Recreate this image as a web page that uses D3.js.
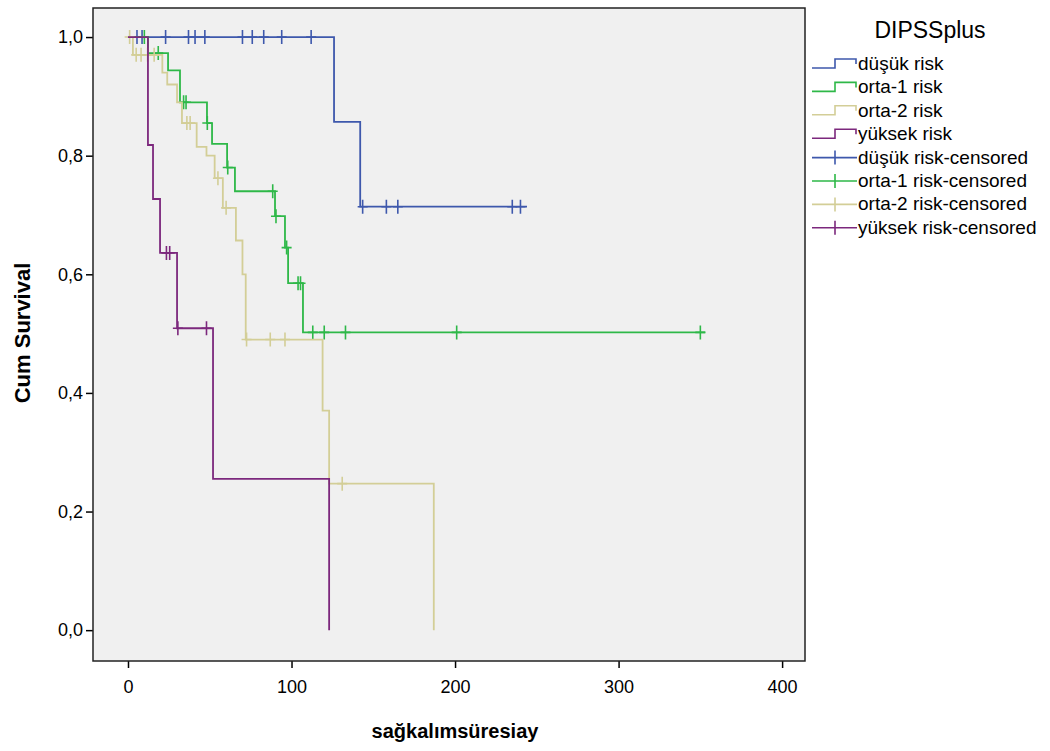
<!DOCTYPE html>
<html>
<head>
<meta charset="utf-8">
<script src="https://cdn.jsdelivr.net/npm/d3@7"></script>
<style>
  body { margin: 0; background: #fff; }
  text { font-family: "Liberation Sans", Arial, sans-serif; }
</style>
</head>
<body>
<div id="chart"></div>
<script>
// Kaplan-Meier steps (time in months, cumulative survival)
const groups = ['düşük risk', 'orta-1 risk', 'orta-2 risk', 'yüksek risk'];
const colors = ['#3e58ac', '#2eb848', '#d3ce97', '#7c287d'];

const dusukTimes = [0, 126, 142];
const dusukSurv = [1.0, 0.857, 0.714];
const dusukEnd = 244;
const dusukCens = [5.5, 8.6, 23, 37, 41, 47, 70, 76, 83, 94, 112, 143.5, 158, 165, 235, 240];

const orta1Times = [0, 12.2, 24.5, 31.8, 48.3, 51.4, 60.6, 65.4, 89.9, 96, 97.9, 107];
const orta1Surv = [1.0, 0.973, 0.944, 0.89, 0.855, 0.82, 0.78, 0.74, 0.698, 0.645, 0.585, 0.502];
const orta1End = 353;
const orta1Cens = [10, 18.5, 34, 35.5, 48.5, 61, 88.5, 90.5, 97, 104, 105.5, 113, 120, 133, 201, 350];

const orta2Times = [0, 3, 21, 24, 30, 33, 42, 48, 53, 58, 66, 70, 72, 119, 123, 187];
const orta2Surv = [1.0, 0.97, 0.94, 0.92, 0.89, 0.855, 0.815, 0.80, 0.762, 0.712, 0.657, 0.60, 0.49, 0.37, 0.247, 0];
const orta2End = 187;
const orta2Cens = [1, 5, 8, 12, 16, 36, 38, 55, 60, 72.5, 87, 96, 131];

const yuksekTimes = [0, 12.2, 15.3, 19.6, 30, 52, 123];
const yuksekSurv = [1.0, 0.818, 0.727, 0.636, 0.509, 0.255, 0];
const yuksekEnd = 123;
const yuksekCens = [23.5, 25.5, 30.5, 48];

const xTicks = [0, 100, 200, 300, 400];
const yTicks = [0, 0.2, 0.4, 0.6, 0.8, 1.0];

const series = [
  { times: dusukTimes, surv: dusukSurv, end: dusukEnd, cens: dusukCens },
  { times: orta1Times, surv: orta1Surv, end: orta1End, cens: orta1Cens },
  { times: orta2Times, surv: orta2Surv, end: orta2End, cens: orta2Cens },
  { times: yuksekTimes, surv: yuksekSurv, end: yuksekEnd, cens: yuksekCens }
];

const width = 1050, height = 751;
const plot = { left: 93, right: 805, top: 8, bottom: 661 };

const svg = d3.select('#chart').append('svg')
  .attr('width', width)
  .attr('height', height);

const x = d3.scaleLinear().domain([-21.4, 414]).range([plot.left, plot.right]);
const y = d3.scaleLinear().domain([-0.052, 1.049]).range([plot.bottom, plot.top]);

// plot background
svg.append('rect')
  .attr('x', plot.left).attr('y', plot.top)
  .attr('width', plot.right - plot.left).attr('height', plot.bottom - plot.top)
  .attr('fill', '#f0f0f0');

const comma = v => d3.format('.1f')(v).replace('.', ',');

// axes
const yAxis = svg.append('g')
  .attr('transform', `translate(${plot.left},0)`)
  .call(d3.axisLeft(y).tickValues(yTicks).tickFormat(comma).tickSize(7).tickSizeOuter(0));
const xAxis = svg.append('g')
  .attr('transform', `translate(0,${plot.bottom})`)
  .call(d3.axisBottom(x).tickValues(xTicks).tickSize(7).tickSizeOuter(0));

[yAxis, xAxis].forEach(a => {
  a.select('.domain').remove();
  a.selectAll('line').attr('stroke', '#000').attr('stroke-width', 1.5);
  a.selectAll('text').attr('fill', '#000').style('font-size', '18px');
});
yAxis.selectAll('text').attr('x', -10);
xAxis.selectAll('text').attr('y', 19);

// step lines
const survAt = (s, t) => {
  let v = s.surv[0];
  s.times.forEach((tt, i) => { if (tt <= t) v = s.surv[i]; });
  return v;
};

const stepPath = s => {
  const pts = s.times.map((t, i) => [t, s.surv[i]]);
  pts.push([s.end, s.surv[s.surv.length - 1]]);
  return d3.line().x(d => x(d[0])).y(d => y(d[1])).curve(d3.curveStepAfter)(pts);
};

const lines = svg.append('g');
series.forEach((s, i) => {
  lines.append('path')
    .attr('d', stepPath(s))
    .attr('fill', 'none')
    .attr('stroke', colors[i])
    .attr('stroke-width', 1.8);

  lines.selectAll(null)
    .data(s.cens)
    .enter()
    .append('path')
    .attr('d', t => {
      const cx = x(t), cy = y(survAt(s, t));
      return `M${cx},${cy - 7}V${cy + 7}M${cx - 5},${cy}H${cx + 5}`;
    })
    .attr('stroke', colors[i])
    .attr('stroke-width', 1.6);
});

// frame
svg.append('rect')
  .attr('x', plot.left).attr('y', plot.top)
  .attr('width', plot.right - plot.left).attr('height', plot.bottom - plot.top)
  .attr('fill', 'none')
  .attr('stroke', '#222')
  .attr('stroke-width', 1.5);

// axis titles
svg.append('text')
  .attr('transform', 'translate(30,333) rotate(-90)')
  .attr('text-anchor', 'middle')
  .style('font-size', '22px')
  .style('font-weight', 'bold')
  .text('Cum Survival');

svg.append('text')
  .attr('x', 455).attr('y', 738)
  .attr('text-anchor', 'middle')
  .style('font-size', '20px')
  .style('font-weight', 'bold')
  .text('sağkalımsüresiay');

// legend
const legend = svg.append('g');
legend.append('text')
  .attr('x', 930).attr('y', 38)
  .attr('text-anchor', 'middle')
  .style('font-size', '23px')
  .text('DIPSSplus');

const legendLabels = groups.concat(groups.map(g => g + '-censored'));
const items = legend.selectAll('.legend-item')
  .data(legendLabels)
  .enter()
  .append('g')
  .attr('class', 'legend-item')
  .attr('transform', (d, i) => `translate(0, ${64 + i * 23.4})`);

items.append('path')
  .attr('d', (d, i) => i < 4
    ? 'M812,4H835V-5H856V0'
    : 'M812,0H857M835,-7V7')
  .attr('fill', 'none')
  .attr('stroke', (d, i) => colors[i % 4])
  .attr('stroke-width', 1.6);

items.append('text')
  .attr('x', 858)
  .attr('y', 6)
  .style('font-size', '19px')
  .text(d => d);
</script>
</body>
</html>
